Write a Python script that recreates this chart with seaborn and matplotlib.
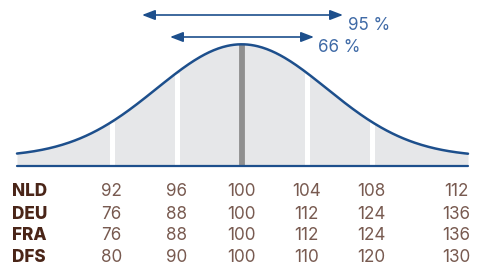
import numpy as np
import pandas as pd
import matplotlib
matplotlib.use("Agg")
import matplotlib.pyplot as plt
import seaborn as sns

# ---- data ----
countries = ["NLD", "DEU", "FRA", "DFS"]
nld = [92, 96, 100, 104, 108, 112]
deu = [76, 88, 100, 112, 124, 136]
fra = [76, 88, 100, 112, 124, 136]
dfs = [80, 90, 100, 110, 120, 130]
rows = [nld, deu, fra, dfs]
col_pos = [-2, -1, 0, 1, 2, 3.3]          # column positions in sigma units
band_lines = [-2, -1, 1, 2]                # white separators
pct_labels = ["95 %", "66 %"]

sns.set_theme(style="white")
plt.rcParams["font.family"] = ["Inter", "DejaVu Sans"]

W, H = 486, 269
fig = plt.figure(figsize=(W / 100, H / 100), dpi=100)
ax = fig.add_axes([0, 0, 1, 1])
cx, ppu = 241.7, 65.0
ax.set_xlim((0 - cx) / ppu, (W - cx) / ppu)
ax.set_ylim(166 - 269, 166)
ax.axis("off")

# bell curve (normal shape on a raised base)
sig = 1.31
u = np.linspace((17 - cx) / ppu, (468 - cx) / ppu, 400)
def bell(x):
    return 9 + 112.7 * np.exp(-np.asarray(x) ** 2 / (2 * sig ** 2))
curve = pd.DataFrame({"u": u, "h": bell(u)})

fill_col = "#e6e7e9"
blue = "#1d4f8c"
ax.fill_between(curve["u"], 1.5, curve["h"], color=fill_col, lw=0, zorder=1)
for b in band_lines:
    ax.vlines(b, 1.5, bell(b), color="white", lw=3.6, zorder=2)
ax.vlines(0, 1.5, bell(0), color="#8f8f8f", lw=4.2, zorder=2)
sns.lineplot(data=curve, x="u", y="h", color=blue, lw=1.8, ax=ax, zorder=3)
ax.plot([u[0], u[-1]], [0, 0], color=blue, lw=1.6, zorder=3)
ax.set_xlabel(""); ax.set_ylabel("")

# arrows
arrow_spec = [((142, 343), 151, (348, 143)), ((170, 314), 129, (318, 120))]
for lab, ((x0, x1), y, (tx, ty)) in zip(pct_labels, arrow_spec):
    ax.annotate("", xy=((x1 - cx) / ppu, y), xytext=((x0 - cx) / ppu, y),
                arrowprops=dict(arrowstyle="<|-|>,head_length=0.65,head_width=0.25",
                                color=blue, lw=1.2, shrinkA=0, shrinkB=0))
    ax.text((tx - cx) / ppu, ty, lab, color="#3f6aa6", fontsize=12.3,
            fontweight="normal", ha="left", va="center_baseline")

# table
row_y = [-24, -46.5, -68, -90]
for name, vals, y in zip(countries, rows, row_y):
    ax.text((12 - cx) / ppu, y, name, color="#4a2518", fontsize=12.3,
            fontweight="heavy", ha="left", va="center_baseline")
    for p, v in zip(col_pos, vals):
        ax.text(p, y, str(v), color="#785a50", fontsize=12.3,
                fontweight="normal", ha="center", va="center_baseline")

fig.savefig("out.png", dpi=100)
